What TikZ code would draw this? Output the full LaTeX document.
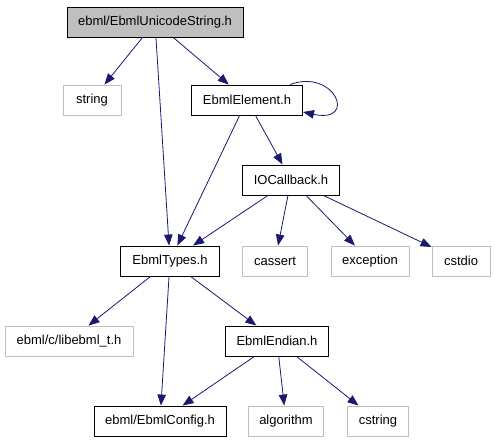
\documentclass[tikz,border=0pt]{standalone}
\usepackage{fontspec}
\setmainfont{Liberation Sans}
\usepackage{tikz}
\usetikzlibrary{arrows.meta}
\definecolor{dblau}{HTML}{191970}
\definecolor{grau}{HTML}{BFBFBF}
\tikzset{
  datei/.style={draw=black,line width=0.9pt,minimum height=30pt,inner xsep=11pt,font=\fontsize{13pt}{15pt}\selectfont},
  extern/.style={datei,draw=grau},
  wurzel/.style={datei,fill=grau},
  kante/.style={-{Triangle[length=11pt,width=8.5pt]},dblau,line width=0.8pt},
}
\begin{document}
\begin{tikzpicture}[x=1pt,y=-1pt]
  \useasboundingbox (0,0) rectangle (495,443);
  \node[wurzel,minimum width=176pt] (uni) at (155,22) {ebml/EbmlUnicodeString.h};
  \node[extern,minimum width=58pt] (string) at (92,100) {string};
  \node[datei,minimum width=111pt] (elem) at (247,100) {EbmlElement.h};
  \node[datei,minimum width=97pt] (io) at (291,180) {IOCallback.h};
  \node[datei,minimum width=99pt] (types) at (170,261) {EbmlTypes.h};
  \node[extern,minimum width=65pt] (cassert) at (275,261) {cassert};
  \node[extern,minimum width=78pt] (exception) at (370,261) {exception};
  \node[extern,minimum width=58pt] (cstdio) at (461,261) {cstdio};
  \node[extern,minimum width=128pt] (libt) at (69,341) {ebml/c/libebml\_t.h};
  \node[datei,minimum width=103pt] (endian) at (277,341) {EbmlEndian.h};
  \node[datei,minimum width=132pt] (config) at (160,421) {ebml/EbmlConfig.h};
  \node[extern,minimum width=75pt] (algo) at (286,421) {algorithm};
  \node[extern,minimum width=61pt] (cstring) at (378,421) {cstring};
  % Kanten
  \draw[kante] (uni) -- (string);
  \draw[kante] (uni) -- (elem);
  \draw[kante] (uni) -- (types);
  \draw[kante] ([xshift=-13pt]elem.north east) .. controls (335,68) and (358,124) .. ([yshift=-12pt]elem.east);
  \draw[kante] (elem) -- (types);
  \draw[kante] (elem) -- (io);
  \draw[kante] (io) -- (types);
  \draw[kante] (io) -- (cassert);
  \draw[kante] (io) -- (exception);
  \draw[kante] (io) -- (cstdio);
  \draw[kante] (types) -- (libt);
  \draw[kante] (types) -- (config);
  \draw[kante] (types) -- (endian);
  \draw[kante] (endian) -- (config);
  \draw[kante] (endian) -- (algo);
  \draw[kante] (endian) -- (cstring);
\end{tikzpicture}
\end{document}
